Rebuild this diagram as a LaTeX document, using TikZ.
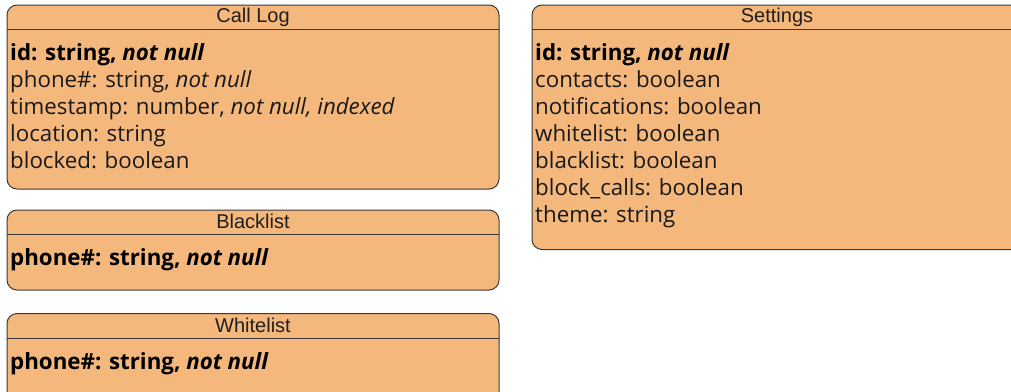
\documentclass[tikz,border=0pt]{standalone}
\usepackage{fontspec}
\setmainfont{Open Sans}
\newfontfamily\titlefam{Liberation Sans}
\definecolor{boxfill}{HTML}{F4B77C}
\definecolor{edge}{HTML}{3A3A3A}
\tikzset{
  entity/.style={draw=edge, fill=boxfill, line width=1pt, rounded corners=10pt},
  sepline/.style={draw=edge, line width=1pt},
  title/.style={font=\titlefam\fontsize{20}{22}\selectfont, anchor=base, inner sep=0pt, text=black!88},
  field/.style={font=\fontsize{22.3}{27}\selectfont, anchor=base west, inner sep=0pt, text=black!90},
  keyfield/.style={font=\bfseries\fontsize{22.3}{27}\selectfont, anchor=base west, inner sep=0pt, text=black},
}
\begin{document}
\begin{tikzpicture}[x=1pt,y=-1pt]
\useasboundingbox (0,0) rectangle (1011,391);
\clip (0,0) rectangle (1011,391);
% Call Log
\draw[entity] (7,5) rectangle (499,189);
\draw[sepline] (7,29.5) -- (499,29.5);
\node[title] (cltitle) at (253,22) {Call Log};
\node[keyfield] (cl1) at (10,60) {id: string, \textit{not null}};
\node[field] (cl2) at (10,87) {phone\#: string, \textit{not null}};
\node[field] (cl3) at (10,114) {timestamp: number, \textit{not null, indexed}};
\node[field] (cl4) at (10,141) {location: string};
\node[field] (cl5) at (10,168) {blocked: boolean};
% Blacklist
\draw[entity] (7,210) rectangle (499,290);
\draw[sepline] (7,234.5) -- (499,234.5);
\node[title] (bltitle) at (253,228) {Blacklist};
\node[keyfield] (bl1) at (10,265) {phone\#: string, \textit{not null}};
% Whitelist
\draw[entity] (7,313.5) rectangle (499,410);
\draw[sepline] (7,338) -- (499,338);
\node[title] (wltitle) at (253,332) {Whitelist};
\node[keyfield] (wl1) at (10,369) {phone\#: string, \textit{not null}};
% Settings
\draw[entity] (532,5) rectangle (1022,249.5);
\draw[sepline] (532,29.5) -- (1022,29.5);
\node[title] (sttitle) at (777,22) {Settings};
\node[keyfield] (st1) at (535,60) {id: string, \textit{not null}};
\node[field] (st2) at (535,87) {contacts: boolean};
\node[field] (st3) at (535,114) {notifications: boolean};
\node[field] (st4) at (535,141) {whitelist: boolean};
\node[field] (st5) at (535,168) {blacklist: boolean};
\node[field] (st6) at (535,195) {block\_calls: boolean};
\node[field] (st7) at (535,222) {theme: string};
\end{tikzpicture}
\end{document}
